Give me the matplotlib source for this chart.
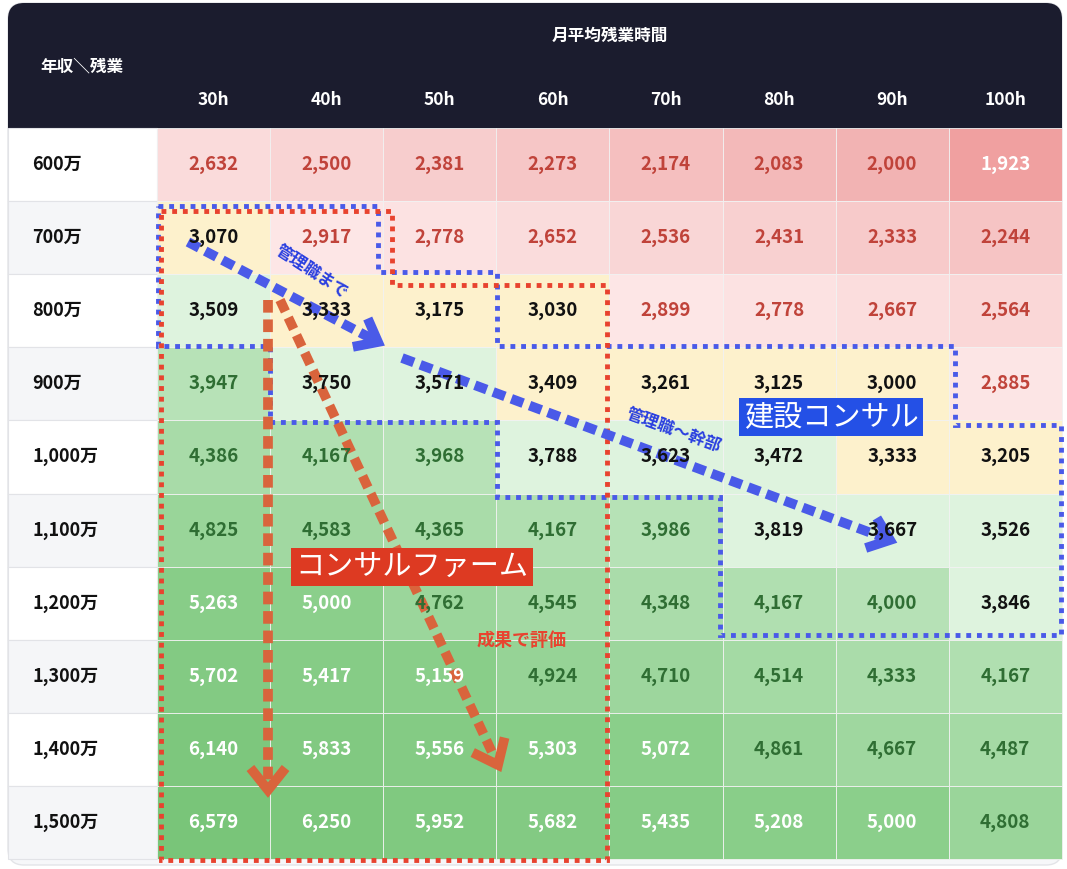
import matplotlib
matplotlib.use("Agg")
import matplotlib.pyplot as plt
from matplotlib.patches import FancyBboxPatch, Rectangle, Polygon
import numpy as np

plt.rcParams['font.family'] = ['Noto Sans CJK JP', 'DejaVu Sans']

rows = ["600万", "700万", "800万", "900万", "1,000万", "1,100万", "1,200万", "1,300万", "1,400万", "1,500万"]
cols = ["30h", "40h", "50h", "60h", "70h", "80h", "90h", "100h"]
values = [
    [2632, 2500, 2381, 2273, 2174, 2083, 2000, 1923],
    [3070, 2917, 2778, 2652, 2536, 2431, 2333, 2244],
    [3509, 3333, 3175, 3030, 2899, 2778, 2667, 2564],
    [3947, 3750, 3571, 3409, 3261, 3125, 3000, 2885],
    [4386, 4167, 3968, 3788, 3623, 3472, 3333, 3205],
    [4825, 4583, 4365, 4167, 3986, 3819, 3667, 3526],
    [5263, 5000, 4762, 4545, 4348, 4167, 4000, 3846],
    [5702, 5417, 5159, 4924, 4710, 4514, 4333, 4167],
    [6140, 5833, 5556, 5303, 5072, 4861, 4667, 4487],
    [6579, 6250, 5952, 5682, 5435, 5208, 5000, 4808],
]

def mix(c1, c2, t):
    c1 = np.array(matplotlib.colors.to_rgb(c1)); c2 = np.array(matplotlib.colors.to_rgb(c2))
    return tuple(c1 + (c2 - c1) * min(max(t, 0), 1))

def cell_style(v):
    if v < 3000:
        if v < 1950:
            return "#f0a0a0", "white"
        bg = mix("#fde8e8", "#f2b3b3", ((3000 - v) / 1000) ** 1.4)
        return bg, "#c0433a"
    elif v < 3450:
        return "#fdf1cc", "#111111"
    elif v < 3900:
        return "#def3de", "#111111"
    elif v < 5000:
        return mix("#b9e3b9", "#93d293", (v - 3900) / 1100), "#2f6e33"
    else:
        return mix("#8bcf8b", "#79c579", (v - 5000) / 1500), "white"

W, H = 1067, 869
fig = plt.figure(figsize=(W / 100, H / 100), dpi=100)
ax = fig.add_axes([0, 0, 1, 1])
ax.set_xlim(0, W); ax.set_ylim(H, 0); ax.axis("off")

x0, cw = 157, 113.1
y0, rh = 128, 73.1
left = 8

ax.add_patch(FancyBboxPatch((left, 3), 1062 - left, 862, boxstyle="round,pad=0,rounding_size=16",
                            fc="#f6f7f9", ec="#e3e4e8", lw=1))
ax.add_patch(FancyBboxPatch((left, 3), 1062 - left, 140, boxstyle="round,pad=0,rounding_size=16",
                            fc="#1b1c2e", ec="none"))
ax.add_patch(Rectangle((left, 110), 1062 - left, y0 - 110, fc="#1b1c2e", ec="none"))

ax.text(82, 66, "年収＼残業", color="white", fontsize=12, fontweight="bold", ha="center", va="center")
ax.text(x0 + cw * 4, 36, "月平均残業時間", color="white", fontsize=12, fontweight="bold", ha="center", va="center")
for j, c in enumerate(cols):
    ax.text(x0 + cw * (j + 0.5), 100, c, color="white", fontsize=12.5, fontweight="bold", ha="center", va="center")

for i, r in enumerate(rows):
    yt = y0 + rh * i
    ax.add_patch(Rectangle((left, yt), x0 - left, rh, fc="white" if i % 2 == 0 else "#f5f6f8", ec="#e2e3e7", lw=0.8))
    ax.text(32, yt + rh / 2, r, fontsize=13, fontweight="bold", ha="left", va="center", color="#111111")
    for j, v in enumerate(values[i]):
        bg, fg = cell_style(v)
        ax.add_patch(Rectangle((x0 + cw * j, yt), cw, rh, fc=bg, ec="#f2f2f2", lw=0.6))
        ax.text(x0 + cw * (j + 0.5), yt + rh / 2, f"{v:,}", color=fg, fontsize=13.5,
                fontweight="bold", ha="center", va="center")

blue = "#4a5ae8"
red = "#e8432f"
arrow_red = "#d9643c"

bpoly = [(158, 206), (378, 206), (378, 272), (497, 272), (497, 346), (955, 346), (955, 425),
         (1061, 425), (1061, 635), (720, 635), (720, 497), (497, 497), (497, 422), (270, 422),
         (270, 346), (158, 346)]
ax.add_patch(Polygon(bpoly, closed=True, fill=False, ec=blue, lw=3.5, ls=(0, (1, 1.2))))
rpoly = [(161, 211), (392, 211), (392, 285), (607, 285), (607, 860), (161, 860)]
ax.add_patch(Polygon(rpoly, closed=True, fill=False, ec=red, lw=3.5, ls=(0, (1, 1.2))))

def dash_arrow(p1, p2, color, head=22):
    p1 = np.array(p1, float); p2 = np.array(p2, float)
    d = (p2 - p1) / np.linalg.norm(p2 - p1)
    n = np.array([-d[1], d[0]])
    ax.plot([p1[0], p2[0] - d[0] * 4], [p1[1], p2[1] - d[1] * 4], color=color, lw=7,
            ls=(0, (1.3, 0.7)), solid_capstyle="butt", dash_capstyle="butt")
    a = p2 - d * head + n * head * 0.8
    b = p2 - d * head - n * head * 0.8
    ax.plot([a[0], p2[0], b[0]], [a[1], p2[1], b[1]], color=color, lw=7,
            solid_joinstyle="miter", solid_capstyle="butt")

dash_arrow((268, 300), (268, 790), arrow_red)
dash_arrow((280, 300), (498, 765), arrow_red)
dash_arrow((188, 242), (378, 342), blue, 20)
dash_arrow((402, 358), (890, 540), blue, 20)

ax.text(312, 272, "管理職まで", color="#2a3fe0", fontsize=12, fontweight="bold", rotation=-33,
        ha="center", va="center")
ax.text(674, 430, "管理職〜幹部", color="#2a3fe0", fontsize=12, fontweight="bold", rotation=-20,
        ha="center", va="center")
ax.text(831, 417, "建設コンサル", color="white", fontsize=21, ha="center", va="center",
        bbox=dict(boxstyle="square,pad=0.15", fc="#2450e6", ec="none"))
ax.text(412, 567, "コンサルファーム", color="white", fontsize=21, ha="center", va="center",
        bbox=dict(boxstyle="square,pad=0.15", fc="#dd3a22", ec="none"))
ax.text(522, 640, "成果で評価", color=red, fontsize=13, fontweight="bold", ha="center", va="center")

fig.savefig("out.png", dpi=100)
